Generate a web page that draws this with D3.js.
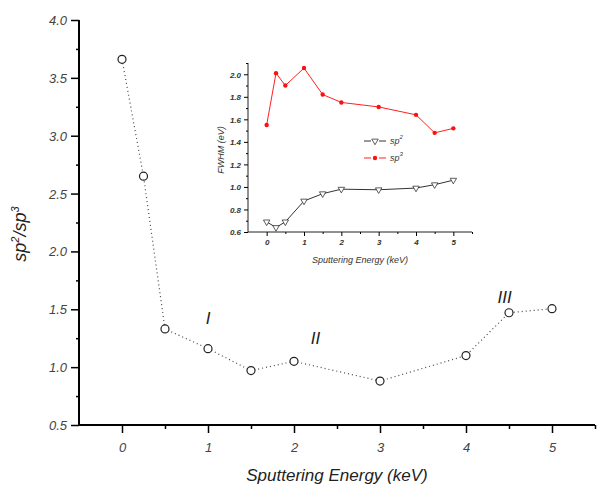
<!DOCTYPE html>
<html><head><meta charset="utf-8">
<script src="https://cdn.jsdelivr.net/npm/d3@7"></script>
<style>
body{margin:0;background:#fff;}
svg text{font-family:"Liberation Sans",Arial,sans-serif;font-style:italic;}
</style></head>
<body>
<svg id="c" width="600" height="490"></svg>
<script>
// Main chart data
const energy = [0, 0.25, 0.5, 1, 1.5, 2, 3, 4, 4.5, 5];
const ratio = [3.66, 2.65, 1.33, 1.16, 0.97, 1.05, 0.88, 1.10, 1.47, 1.505];
const mainXTicks = [0, 1, 2, 3, 4, 5];
const mainYTicks = [0.5, 1.0, 1.5, 2.0, 2.5, 3.0, 3.5, 4.0];
const regionLabels = ["I", "II", "III"];
const regionX = [1, 2.25, 4.45];
const regionY = [1.42, 1.25, 1.61];
// Inset data
const insetEnergy = [0, 0.25, 0.5, 1, 1.5, 2, 3, 4, 4.5, 5];
const fwhmSp2 = [0.69, 0.64, 0.69, 0.875, 0.94, 0.98, 0.975, 0.99, 1.02, 1.06];
const fwhmSp3 = [1.55, 2.01, 1.90, 2.055, 1.82, 1.75, 1.71, 1.64, 1.48, 1.52];
const insetXTicks = [0, 1, 2, 3, 4, 5];
const insetYTicks = [0.6, 0.8, 1.0, 1.2, 1.4, 1.6, 1.8, 2.0];

const svg = d3.select("#c");

// ---------- Main chart ----------
const x = d3.scaleLinear().domain([-0.5, 5.5]).range([79, 595]);
const y = d3.scaleLinear().domain([0.5, 4.0]).range([425, 20]);

const gx = svg.append("g").attr("transform", "translate(0,425)");
gx.call(d3.axisBottom(x).tickValues(d3.range(-0.5, 5.51, 0.5).filter(v => v > -0.5)).tickSize(4).tickFormat(""));
gx.call(g => g.selectAll(".tick line").filter(d => Number.isInteger(d)).attr("y2", 8));
gx.selectAll(".domain").attr("stroke-width", 2).attr("d", "M79,0H595");
gx.selectAll(".tick line").attr("stroke-width", 1.5);
gx.selectAll(".tick").filter(d => mainXTicks.includes(d)).append("text")
  .attr("y", 27).attr("fill", "#444").attr("font-size", 13).attr("text-anchor", "middle")
  .text(d => d3.format("d")(d));

const gy = svg.append("g").attr("transform", "translate(79,0)");
gy.call(d3.axisLeft(y).tickValues(d3.range(0.5, 4.01, 0.25)).tickSize(3).tickFormat(""));
gy.selectAll(".tick line").filter(d => mainYTicks.some(t => Math.abs(t - d) < 1e-9)).attr("x2", -8);
gy.selectAll(".domain").attr("stroke-width", 2).attr("d", "M0,425V20");
gy.selectAll(".tick line").attr("stroke-width", 1.5);
gy.selectAll(".tick").filter(d => mainYTicks.some(t => Math.abs(t - d) < 1e-9)).append("text")
  .attr("x", -12).attr("dy", "0.35em").attr("fill", "#444").attr("font-size", 13).attr("text-anchor", "end")
  .text(d => d3.format(".1f")(d));

svg.append("text").attr("x", 337).attr("y", 481).attr("text-anchor", "middle")
  .attr("font-size", 17).attr("fill", "#222").text("Sputtering Energy (keV)");
const yt = svg.append("text").attr("transform", "translate(26,234) rotate(-90)")
  .attr("text-anchor", "middle").attr("font-size", 18).attr("fill", "#222");
yt.append("tspan").text("sp");
yt.append("tspan").attr("dy", -7).attr("font-size", 11).text("2");
yt.append("tspan").attr("dy", 7).text("/sp");
yt.append("tspan").attr("dy", -7).attr("font-size", 11).text("3");

const pts = energy.map((e, i) => [e, ratio[i]]);
svg.append("path").datum(pts)
  .attr("d", d3.line().x(d => x(d[0])).y(d => y(d[1])))
  .attr("fill", "none").attr("stroke", "#444").attr("stroke-width", 1.2).attr("stroke-dasharray", "1,3");
svg.selectAll("circle.m").data(pts).enter().append("circle").attr("class", "m")
  .attr("cx", d => x(d[0])).attr("cy", d => y(d[1])).attr("r", 4)
  .attr("fill", "#fff").attr("stroke", "#222").attr("stroke-width", 1.2);

svg.selectAll("text.reg").data(regionLabels).enter().append("text").attr("class", "reg")
  .attr("x", (d, i) => x(regionX[i])).attr("y", (d, i) => y(regionY[i]))
  .attr("dy", "0.35em")
  .attr("text-anchor", "middle").attr("font-size", 17).attr("fill", "#222").text(d => d);

// ---------- Inset ----------
const ix = d3.scaleLinear().domain([-0.5, 5.5]).range([248, 472]);
const iy = d3.scaleLinear().domain([0.6, 2.1]).range([232, 63]);

const igx = svg.append("g").attr("transform", "translate(0,232)");
igx.call(d3.axisBottom(ix).tickValues(d3.range(0, 5.51, 0.5)).tickSize(2).tickFormat(""));
igx.selectAll(".tick line").filter(d => Number.isInteger(d)).attr("y2", 4);
igx.selectAll(".domain").attr("d", "M248,0H472").attr("stroke", "#222");
igx.selectAll(".tick").filter(d => insetXTicks.includes(d)).append("text")
  .attr("y", 13).attr("fill", "#333").attr("font-size", 8).attr("font-weight", "bold").attr("text-anchor", "middle")
  .text(d => d3.format("d")(d));

const igy = svg.append("g").attr("transform", "translate(248,0)");
igy.call(d3.axisLeft(iy).tickValues(d3.range(0.6, 2.101, 0.1)).tickSize(2).tickFormat(""));
igy.selectAll(".tick line").filter(d => insetYTicks.some(t => Math.abs(t - d) < 1e-9)).attr("x2", -4);
igy.selectAll(".domain").attr("d", "M0,232V63").attr("stroke", "#222");
igy.selectAll(".tick").filter(d => insetYTicks.some(t => Math.abs(t - d) < 1e-9)).append("text")
  .attr("x", -7).attr("dy", "0.35em").attr("fill", "#333").attr("font-size", 8).attr("font-weight", "bold").attr("text-anchor", "end")
  .text(d => d3.format(".1f")(d));

svg.append("text").attr("x", 360).attr("y", 263).attr("text-anchor", "middle")
  .attr("font-size", 9).attr("fill", "#333").text("Sputtering Energy (keV)");
svg.append("text").attr("transform", "translate(224,150) rotate(-90)").attr("text-anchor", "middle")
  .attr("font-size", 9).attr("fill", "#333").text("FWHM (eV)");

const p2 = insetEnergy.map((e, i) => [e, fwhmSp2[i]]);
const p3 = insetEnergy.map((e, i) => [e, fwhmSp3[i]]);
const il = d3.line().x(d => ix(d[0])).y(d => iy(d[1]));
svg.append("path").datum(p2).attr("d", il).attr("fill", "none").attr("stroke", "#333").attr("stroke-width", 1);
svg.append("path").datum(p3).attr("d", il).attr("fill", "none").attr("stroke", "#ff2020").attr("stroke-width", 1);
const tri = d3.symbol().type(d3.symbolTriangle).size(18);
svg.selectAll("path.t").data(p2).enter().append("path").attr("class", "t")
  .attr("d", tri).attr("transform", d => `translate(${ix(d[0])},${iy(d[1])}) rotate(180)`)
  .attr("fill", "#fff").attr("stroke", "#333").attr("stroke-width", 0.8);
svg.selectAll("circle.r").data(p3).enter().append("circle").attr("class", "r")
  .attr("cx", d => ix(d[0])).attr("cy", d => iy(d[1])).attr("r", 2.2).attr("fill", "#ff1010");

// legend
const lg = [{c: "#333", k: "2", y: 141}, {c: "#ff2020", k: "3", y: 158}];
lg.forEach((l, i) => {
  svg.append("line").attr("x1", 364).attr("x2", 371).attr("y1", l.y).attr("y2", l.y).attr("stroke", l.c);
  svg.append("line").attr("x1", 379).attr("x2", 386).attr("y1", l.y).attr("y2", l.y).attr("stroke", l.c);
  if (i === 0) svg.append("path").attr("d", tri).attr("transform", `translate(375,${l.y}) rotate(180)`)
    .attr("fill", "#fff").attr("stroke", "#333").attr("stroke-width", 0.8);
  else svg.append("circle").attr("cx", 375).attr("cy", l.y).attr("r", 2.2).attr("fill", "#ff1010");
  const t = svg.append("text").attr("x", 390).attr("y", l.y + 3).attr("font-size", 9).attr("fill", "#333");
  t.append("tspan").text("sp");
  t.append("tspan").attr("dy", -5).attr("font-size", 6).text(l.k);
});
</script>
</body></html>
